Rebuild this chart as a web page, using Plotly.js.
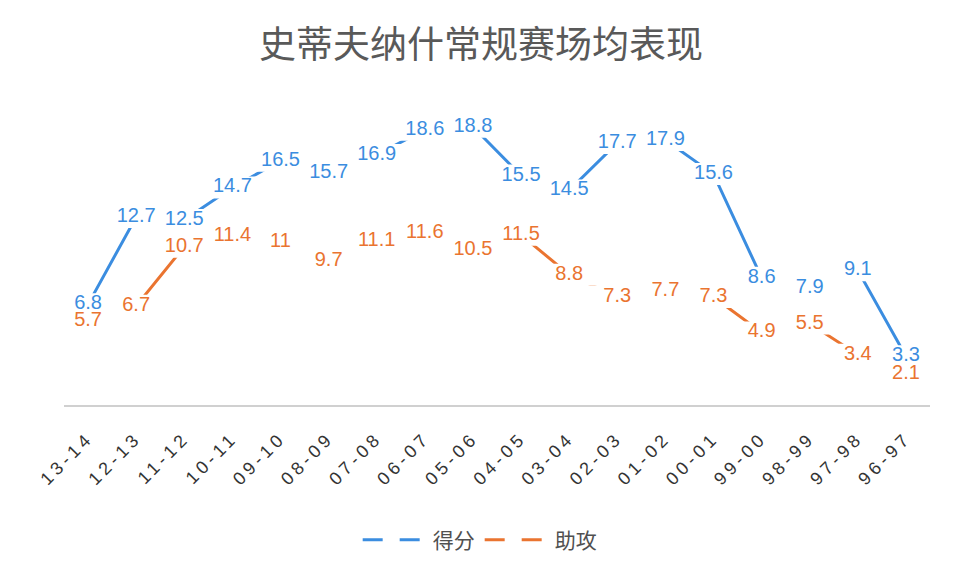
<!DOCTYPE html>
<html>
<head>
<meta charset="utf-8">
<script src="https://cdn.plot.ly/plotly-3.0.1.min.js"></script>
<style>
html,body{margin:0;padding:0;background:#fff;}
#chart{width:962px;height:578px;}
#chart .xtick text{letter-spacing:4px;}
</style>
</head>
<body>
<div id="chart"></div>
<script>
const seasons = ["13-14","12-13","11-12","10-11","09-10","08-09","07-08","06-07","05-06","04-05","03-04","02-03","01-02","00-01","99-00","98-99","97-98","96-97"];
const points = [6.8,12.7,12.5,14.7,16.5,15.7,16.9,18.6,18.8,15.5,14.5,17.7,17.9,15.6,8.6,7.9,9.1,3.3];
const assists = [5.7,6.7,10.7,11.4,11,9.7,11.1,11.6,10.5,11.5,8.8,7.3,7.7,7.3,4.9,5.5,3.4,2.1];
const seriesNames = ["得分","助攻"];

const blue = "#3b8de0";
const orange = "#ea7430";
const numFont = "Liberation Sans, Arial, sans-serif";
const cjk = "Noto Sans CJK SC, sans-serif";

function lineTrace(y, color) {
  return {x: seasons, y: y, type: "scatter", mode: "lines",
    line: {color: color, width: 3}, showlegend: false, hoverinfo: "skip"};
}
function maskTrace(y) {
  return {x: seasons, y: y, type: "scatter", mode: "markers",
    marker: {symbol: "line-ew", size: 42, color: "#fff", line: {color: "#fff", width: 22}},
    showlegend: false, hoverinfo: "skip"};
}
function textTrace(y, color) {
  return {x: seasons, y: y, type: "scatter", mode: "text",
    text: y.map(v => String(v)), textposition: "middle center",
    textfont: {family: numFont, size: 20, color: color},
    showlegend: false, hoverinfo: "skip"};
}
function legendTrace(name, color) {
  return {x: [null], y: [null], type: "scatter", mode: "lines", name: name,
    line: {color: color, width: 3, dash: "20px,17px"}};
}

const data = [
  lineTrace(points, blue), lineTrace(assists, orange),
  maskTrace(points), maskTrace(assists),
  textTrace(points, blue), textTrace(assists, orange),
  legendTrace(seriesNames[0], blue), legendTrace(seriesNames[1], orange)
];

const layout = {
  width: 962, height: 578,
  paper_bgcolor: "#fff", plot_bgcolor: "#fff",
  margin: {l: 64, r: 32, t: 109, b: 173},
  title: {text: "史蒂夫纳什常规赛场均表现", font: {family: cjk, size: 37, color: "#595959"},
    x: 0.5, xanchor: "center", y: 1 - 45/578, yanchor: "middle", yref: "container"},
  xaxis: {type: "category", range: [-0.5, seasons.length - 0.5], autorange: false,
    showgrid: false, zeroline: false,
    showline: true, linecolor: "#d0d0d0", linewidth: 1.5,
    ticks: "", tickangle: -45, ticklabelstandoff: 14,
    tickfont: {family: numFont, size: 18, color: "#333"}},
  yaxis: {range: [0, 20], autorange: false, visible: false, showgrid: false, zeroline: false},
  showlegend: true,
  legend: {orientation: "h", x: 0.48, xanchor: "center", y: -0.456, yanchor: "middle",
    font: {family: cjk, size: 21, color: "#505050"}, itemwidth: 65,
    bgcolor: "rgba(0,0,0,0)"}
};

Plotly.newPlot("chart", data, layout, {displayModeBar: false, staticPlot: true});
</script>
</body>
</html>
